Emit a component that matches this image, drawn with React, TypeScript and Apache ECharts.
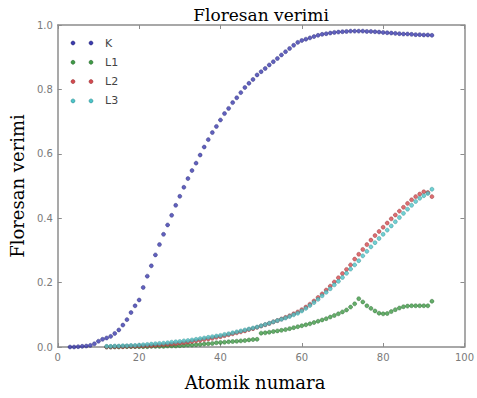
import React, { useEffect, useRef } from "react";
import * as echarts from "echarts";

// Atomic numbers for each shell's data
const kStart = 3;
const lStart = 12;

// K-shell fluorescence yield, Z = 3 .. 92
const kYield = [
  0.0, 0.0, 0.001, 0.002, 0.003, 0.005, 0.01, 0.018, 0.024, 0.028,
  0.033, 0.042, 0.053, 0.068, 0.085, 0.107, 0.128, 0.146, 0.185, 0.22,
  0.252, 0.286, 0.318, 0.35, 0.379, 0.409, 0.44, 0.468, 0.496, 0.523,
  0.548, 0.571, 0.596, 0.621, 0.644, 0.666, 0.685, 0.705, 0.725, 0.741,
  0.759, 0.774, 0.79, 0.806, 0.819, 0.831, 0.845, 0.855, 0.865, 0.876,
  0.886, 0.896, 0.907, 0.917, 0.927, 0.937, 0.946, 0.952, 0.956, 0.96,
  0.964, 0.968, 0.971, 0.973, 0.975, 0.977, 0.978, 0.979, 0.98, 0.981,
  0.981, 0.981, 0.981, 0.98, 0.98, 0.979, 0.978, 0.977, 0.976, 0.975,
  0.974, 0.973, 0.972, 0.972, 0.971, 0.97, 0.97, 0.969, 0.969, 0.968,
];

// L1 subshell, Z = 12 .. 92
const l1Yield = [
  0.0, 0.0, 0.0, 0.0, 0.001, 0.001, 0.001, 0.001, 0.001, 0.001,
  0.001, 0.002, 0.002, 0.002, 0.002, 0.003, 0.003, 0.003, 0.004, 0.005,
  0.006, 0.006, 0.007, 0.008, 0.009, 0.01, 0.011, 0.013, 0.014, 0.015,
  0.016, 0.017, 0.018, 0.019, 0.02, 0.022, 0.023, 0.024, 0.043, 0.044,
  0.046, 0.048, 0.05, 0.052, 0.054, 0.057, 0.06, 0.063, 0.066, 0.069,
  0.072, 0.076, 0.08, 0.084, 0.088, 0.093, 0.098, 0.103, 0.109, 0.115,
  0.124, 0.134, 0.15, 0.14, 0.128, 0.12, 0.112, 0.105, 0.103, 0.104,
  0.11, 0.116, 0.121, 0.125, 0.127, 0.128, 0.128, 0.128, 0.128, 0.128,
  0.142,
];

// L2 subshell, Z = 12 .. 92
const l2Yield = [
  0.0, 0.0, 0.001, 0.001, 0.001, 0.002, 0.002, 0.002, 0.003, 0.003,
  0.004, 0.004, 0.005, 0.006, 0.007, 0.008, 0.009, 0.01, 0.012, 0.013,
  0.015, 0.017, 0.019, 0.021, 0.023, 0.025, 0.027, 0.03, 0.032, 0.035,
  0.038, 0.041, 0.044, 0.047, 0.05, 0.054, 0.057, 0.061, 0.065, 0.069,
  0.073, 0.078, 0.082, 0.087, 0.092, 0.097, 0.103, 0.109, 0.116, 0.124,
  0.133, 0.143, 0.154, 0.165, 0.177, 0.189, 0.202, 0.215, 0.228, 0.241,
  0.255, 0.273, 0.288, 0.303, 0.318, 0.332, 0.346, 0.359, 0.372, 0.385,
  0.398, 0.41, 0.422, 0.434, 0.446, 0.457, 0.467, 0.475, 0.482, 0.48,
  0.467,
];

// L3 subshell, Z = 12 .. 92
const l3Yield = [
  0.002, 0.002, 0.003, 0.003, 0.004, 0.004, 0.005, 0.005, 0.006, 0.007,
  0.008, 0.009, 0.01, 0.011, 0.012, 0.013, 0.015, 0.016, 0.017, 0.019,
  0.02, 0.022, 0.024, 0.026, 0.028, 0.03, 0.032, 0.034, 0.036, 0.039,
  0.041, 0.044, 0.047, 0.05, 0.053, 0.056, 0.059, 0.062, 0.066, 0.07,
  0.074, 0.078, 0.082, 0.086, 0.09, 0.095, 0.1, 0.105, 0.112, 0.12,
  0.129, 0.138, 0.148, 0.159, 0.17, 0.181, 0.193, 0.204, 0.216, 0.229,
  0.242, 0.255, 0.268, 0.283, 0.297, 0.311, 0.324, 0.337, 0.35, 0.363,
  0.376, 0.389, 0.402, 0.415, 0.428, 0.44, 0.452, 0.462, 0.47, 0.477,
  0.49,
];

const seriesNames = ["K", "L1", "L2", "L3"];
const seriesColors = ["#3a3aae", "#3f9a45", "#d44a4f", "#4cc4c8"];
const seriesEdges = ["#23236e", "#24612a", "#8a2a2e", "#2c8488"];

const xTicks = [0, 20, 40, 60, 80, 100];

const toPoints = (start: number, values: number[]) =>
  values.map((v, i) => [start + i, v]);

export default function App() {
  const ref = useRef<HTMLDivElement>(null);

  useEffect(() => {
    if (!ref.current) return;
    const chart = echarts.init(ref.current, undefined, { renderer: "svg" });

    const axisColor = "#8c8c8c";
    const labelColor = "#7a7a7a";
    const serif = "DejaVu Serif";

    const dataSets = [
      toPoints(kStart, kYield),
      toPoints(lStart, l1Yield),
      toPoints(lStart, l2Yield),
      toPoints(lStart, l3Yield),
    ];

    // L3 is drawn last, so it sits over L2 where the two coincide
    const series = dataSets.map((d, i) => ({
      name: seriesNames[i],
      type: "scatter",
      data: d,
      symbol: "circle",
      symbolSize: 4,
      z: 3 + i,
      itemStyle: {
        color: seriesColors[i],
        borderColor: seriesEdges[i],
        borderWidth: 0.5,
      },
    }));

    // legend rows drawn as paired markers
    const legendItems: any[] = [];
    seriesNames.forEach((name, i) => {
      const y = 43 + i * 19.3;
      [73, 91].forEach((x) => {
        legendItems.push({
          type: "circle",
          shape: { cx: x, cy: y, r: 2 },
          style: {
            fill: seriesColors[i],
            stroke: seriesEdges[i],
            lineWidth: 0.5,
          },
        });
      });
      legendItems.push({
        type: "text",
        x: 105,
        y: y,
        style: {
          text: name,
          fill: "#444",
          font: "11px DejaVu Sans",
          verticalAlign: "middle",
        },
      });
    });

    const baseX = {
      type: "value",
      min: 0,
      max: 100,
      interval: 20,
      axisLine: { show: true, onZero: false, lineStyle: { color: axisColor, width: 1.5 } },
      axisTick: { show: true, inside: true, length: 4, lineStyle: { color: axisColor } },
      splitLine: { show: false },
    };
    const baseY = {
      type: "value",
      min: 0,
      max: 1,
      interval: 0.2,
      axisLine: { show: true, onZero: false, lineStyle: { color: axisColor, width: 1.5 } },
      axisTick: { show: true, inside: true, length: 4, lineStyle: { color: axisColor } },
      splitLine: { show: false },
    };

    chart.setOption({
      animation: false,
      backgroundColor: "#ffffff",
      title: {
        text: "Floresan verimi",
        left: 256,
        textAlign: "center",
        top: 1,
        textStyle: {
          fontFamily: serif,
          fontSize: 17,
          fontWeight: 500,
          color: "#000",
        },
      },
      grid: { left: 57, right: 6, top: 25, bottom: 51, containLabel: false },
      xAxis: [
        {
          ...baseX,
          position: "bottom",
          name: "Atomik numara",
          nameLocation: "middle",
          nameGap: 26,
          nameTextStyle: {
            fontFamily: serif,
            fontSize: 18,
            fontWeight: 500,
            color: "#000",
            padding: [0, 12, 0, 0],
          },
          axisLabel: {
            color: labelColor,
            fontSize: 10,
            fontFamily: "DejaVu Sans",
            margin: 5,
            formatter: (v: number) => (xTicks.includes(v) ? String(v) : ""),
          },
        },
        {
          ...baseX,
          position: "top",
          axisLabel: { show: false },
        },
      ],
      yAxis: [
        {
          ...baseY,
          position: "left",
          name: "Floresan verimi",
          nameLocation: "middle",
          nameGap: 26,
          nameTextStyle: {
            fontFamily: serif,
            fontSize: 18,
            fontWeight: 500,
            color: "#000",
          },
          axisLabel: {
            color: labelColor,
            fontSize: 10,
            fontFamily: "DejaVu Sans",
            margin: 5,
            formatter: (v: number) => v.toFixed(1),
          },
        },
        {
          ...baseY,
          position: "right",
          axisLabel: { show: false },
        },
      ],
      graphic: legendItems,
      series,
    });

    return () => chart.dispose();
  }, []);

  return (
    <div
      ref={ref}
      style={{ position: "fixed", left: 0, top: 0, width: 477, height: 398 }}
    />
  );
}
